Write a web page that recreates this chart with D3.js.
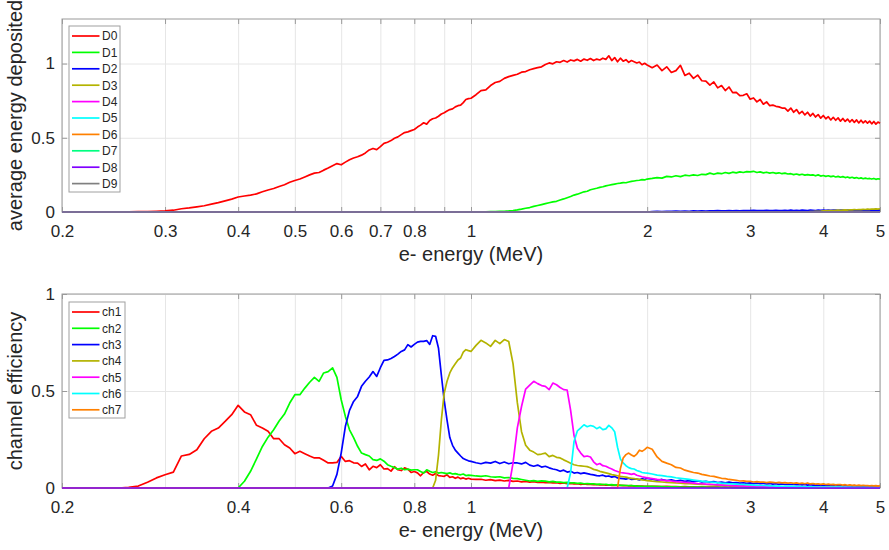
<!DOCTYPE html>
<html>
<head>
<meta charset="utf-8">
<script src="https://cdn.jsdelivr.net/npm/d3@7"></script>
<style>
  body { margin: 0; background: #fff; }
  text { font-family: "Liberation Sans", Arial, Helvetica, sans-serif; fill: #262626; }
</style>
</head>
<body>
<div id="chart"></div>
<script>
// energy grid of the simulation (MeV)
var energyFine = [
  0.20,0.21,0.22,0.23,0.24,0.25,0.26,0.27,0.28,0.29,
  0.30,0.31,0.32,0.33,0.34,0.35,0.36,0.37,0.38,0.39,
  0.40,0.41,0.42,0.43,0.44,0.45,0.46,0.47,0.48,0.49,
  0.50,0.51,0.52,0.53,0.54,0.55,0.56,0.57,0.58,0.59,
  0.60,0.61,0.62,0.63,0.64,0.65,0.66,0.67,0.68,0.69,
  0.70,0.71,0.72,0.73,0.74,0.75,0.76,0.77,0.78,0.79,
  0.80,0.81,0.82,0.83,0.84,0.85,0.86,0.87,0.88,0.89,
  0.90,0.91,0.92,0.93,0.94,0.95,0.96,0.97,0.98,0.99,
  1.00];
var energyMid = [
  1.02,1.04,1.06,1.08,1.10,1.12,1.14,1.16,1.18,1.20,
  1.22,1.24,1.26,1.28,1.30,1.32,1.34,1.36,1.38,1.40,
  1.42,1.44,1.46,1.48,1.50,1.52,1.54,1.56,1.58,1.60,
  1.62,1.64,1.66,1.68,1.70,1.72,1.74,1.76,1.78,1.80,
  1.82,1.84,1.86,1.88,1.90,1.92,1.94,1.96,1.98,2.00];
var energyCoarse = [
  2.04,2.08,2.12,2.16,2.20,2.24,2.28,2.32,2.36,2.40,
  2.44,2.48,2.52,2.56,2.60,2.64,2.68,2.72,2.76,2.80,
  2.84,2.88,2.92,2.96,3.00,3.04,3.08,3.12,3.16,3.20,
  3.24,3.28,3.32,3.36,3.40,3.44,3.48,3.52,3.56,3.60,
  3.64,3.68,3.72,3.76,3.80,3.84,3.88,3.92,3.96,4.00,
  4.04,4.08,4.12,4.16,4.20,4.24,4.28,4.32,4.36,4.40,
  4.44,4.48,4.52,4.56,4.60,4.64,4.68,4.72,4.76,4.80,
  4.84,4.88,4.92,4.96,5.00];
var energy = energyFine.concat(energyMid, energyCoarse);

// ---- top panel: average energy deposited per detector ----
var detNames = ["D0","D1","D2","D3","D4","D5","D6","D7","D8","D9"];
var detColors = ["#ff0000","#00ff00","#0000ff","#b3b300","#ff00ff","#00ffff","#ff8000","#00ff80","#8000ff","#808080"];

var d0Start = 0.25;
var d0Values = [
  0.000,0.001,0.002,0.003,0.005,0.007,0.012,0.022,0.028,0.035,
  0.042,0.053,0.063,0.075,0.087,0.101,0.108,0.114,0.122,0.136,
  0.148,0.158,0.172,0.184,0.200,0.212,0.222,0.236,0.250,0.262,
  0.266,0.282,0.296,0.312,0.326,0.318,0.336,0.352,0.364,0.372,
  0.383,0.398,0.418,0.428,0.420,0.440,0.462,0.470,0.481,0.497,
  0.506,0.521,0.535,0.540,0.548,0.556,0.572,0.585,0.601,0.592,
  0.616,0.628,0.633,0.645,0.660,0.668,0.680,0.690,0.695,0.708,
  0.716,0.720,0.737,0.758,0.764,0.766,
  0.790,0.818,0.822,0.852,0.872,0.880,0.900,0.912,0.920,0.928,
  0.942,0.946,0.958,0.966,0.972,0.978,0.994,1.004,0.998,1.012,
  1.008,1.020,1.010,1.024,1.018,1.028,1.016,1.030,1.022,1.034,
  1.020,1.030,1.024,1.036,1.028,1.052,1.020,1.040,1.012,1.036,
  1.016,1.026,1.008,1.020,1.012,1.004,1.010,0.992,1.002,0.990,
  0.972,0.990,0.952,0.978,0.940,0.952,0.988,0.920,0.935,0.900,
  0.922,0.884,0.882,0.855,0.876,0.836,0.852,0.818,0.842,0.804,
  0.806,0.784,0.786,0.796,0.760,0.768,0.742,0.758,0.726,0.742,
  0.716,0.720,0.712,0.708,0.700,0.700,0.680,0.700,0.672,0.690,
  0.662,0.678,0.654,0.672,0.646,0.664,0.640,0.656,0.632,0.650,
  0.628,0.642,0.620,0.638,0.618,0.634,0.612,0.630,0.610,0.626,
  0.606,0.622,0.604,0.620,0.600,0.618,0.600,0.614,0.598,0.612,
  0.594,0.610,0.592,0.606,0.598];

var d1Start = 1.02;
var d1Values = [
  0.000,0.000,0.001,0.002,0.003,0.004,0.005,0.007,0.010,0.014,
  0.019,0.025,0.030,0.038,0.044,0.050,0.056,0.062,0.068,0.072,
  0.081,0.088,0.096,0.104,0.114,0.120,0.128,0.136,0.140,0.150,
  0.155,0.160,0.166,0.170,0.176,0.180,0.184,0.188,0.192,0.194,
  0.198,0.197,0.202,0.206,0.209,0.212,0.214,0.218,0.216,0.222,
  0.226,0.232,0.228,0.240,0.236,0.244,0.238,0.248,0.244,0.250,
  0.246,0.254,0.252,0.262,0.254,0.262,0.258,0.266,0.260,0.268,
  0.264,0.270,0.266,0.272,0.270,0.274,0.266,0.270,0.264,0.268,
  0.262,0.266,0.260,0.264,0.258,0.262,0.256,0.258,0.252,0.256,
  0.250,0.254,0.248,0.252,0.248,0.250,0.244,0.250,0.242,0.246,
  0.240,0.244,0.238,0.242,0.236,0.240,0.234,0.238,0.232,0.236,
  0.230,0.234,0.228,0.232,0.226,0.230,0.224,0.228,0.224,0.226,
  0.222,0.226,0.220,0.224,0.221];

var d2Start = 2.04;
var d2Values = [
  0.003,0.004,0.003,0.005,0.004,0.006,0.005,0.006,0.005,0.007,
  0.006,0.007,0.006,0.008,0.007,0.009,0.007,0.008,0.009,0.008,
  0.010,0.008,0.009,0.010,0.009,0.011,0.009,0.010,0.009,0.011,
  0.010,0.009,0.011,0.010,0.009,0.011,0.010,0.012,0.010,0.011,
  0.010,0.012,0.011,0.010,0.012,0.011,0.010,0.012,0.011,0.013,
  0.011,0.012,0.011,0.013,0.012,0.011,0.013,0.012,0.011,0.013,
  0.012,0.014,0.012,0.013,0.012,0.014,0.013,0.012,0.014,0.013,
  0.012,0.014,0.013,0.014,0.013];

var d3Start = 3.80;
var d3Values = [
  0.002,0.003,0.004,0.005,0.006,0.008,0.007,0.009,0.010,0.009,
  0.011,0.012,0.011,0.013,0.014,0.013,0.015,0.014,0.016,0.015,
  0.017,0.016,0.018,0.017,0.019,0.018,0.020,0.019,0.021,0.019,0.022];

// ---- bottom panel: channel efficiency ----
var chNames = ["ch1","ch2","ch3","ch4","ch5","ch6","ch7"];
var chColors = ["#ff0000","#00ff00","#0000ff","#b3b300","#ff00ff","#00ffff","#ff8000"];
var ch8Color = "#8000ff"; // plotted at zero, no legend entry

var ch1Start = 0.25;
var ch1Values = [
  0.000,0.003,0.010,0.030,0.052,0.068,0.082,0.165,0.173,0.197,
  0.254,0.292,0.309,0.343,0.378,0.426,0.392,0.378,0.323,0.309,
  0.292,0.254,0.254,0.223,0.206,0.177,0.189,0.177,0.165,0.155,
  0.156,0.143,0.129,0.130,0.132,0.163,0.137,0.141,0.130,0.128,
  0.111,0.124,0.094,0.112,0.105,0.120,0.098,0.100,0.087,0.110,
  0.094,0.090,0.104,0.097,0.080,0.085,0.078,0.063,0.080,0.085,
  0.072,0.066,0.075,0.064,0.062,0.060,0.068,0.055,0.058,0.050,
  0.056,0.048,0.052,0.046,0.050,0.046,
  0.044,0.045,0.040,0.043,0.038,0.041,0.036,0.039,0.034,0.036,
  0.032,0.034,0.030,0.033,0.029,0.030,0.027,0.029,0.026,0.027,
  0.024,0.026,0.022,0.024,0.021,0.022,0.019,0.021,0.018,0.019,
  0.017,0.018,0.016,0.017,0.015,0.016,0.014,0.015,0.013,0.014,
  0.012,0.013,0.011,0.012,0.010,0.011,0.010,0.010,0.009,0.009,
  0.008,0.008,0.007,0.008,0.007,0.007,0.006,0.007,0.006,0.006,
  0.005,0.006,0.005,0.005,0.005,0.005,0.004,0.005,0.004,0.004,
  0.004,0.004,0.004,0.003,0.004,0.003,0.003,0.003,0.003,0.003,
  0.003,0.003,0.002,0.003,0.002,0.003,0.002,0.002,0.002,0.002,
  0.002,0.002,0.002,0.002,0.002,0.002,0.002,0.001,0.002,0.001,
  0.002,0.001,0.001,0.001,0.001,0.001,0.001,0.001,0.001,0.001,
  0.001,0.001,0.001,0.001,0.001,0.001,0.001,0.001,0.001,0.001,
  0.001,0.001,0.001,0.001,0.001];

var ch2Start = 0.40;
var ch2Values = [
  0.000,0.035,0.086,0.150,0.214,0.262,0.300,0.345,0.381,0.438,
  0.481,0.481,0.515,0.545,0.570,0.550,0.593,0.600,0.619,0.570,
  0.455,0.369,0.300,0.260,0.215,0.180,0.172,0.165,0.146,0.142,
  0.150,0.138,0.120,0.112,0.105,0.097,0.102,0.094,0.097,0.092,
  0.094,0.094,0.085,0.077,0.094,0.086,0.080,0.084,0.077,0.080,
  0.077,0.074,0.078,0.072,0.074,0.070,0.068,0.072,0.064,0.066,
  0.065,
  0.062,0.060,0.063,0.058,0.056,0.058,0.052,0.054,0.050,0.048,
  0.044,0.040,0.036,0.038,0.034,0.037,0.035,0.032,0.034,0.030,
  0.031,0.028,0.029,0.026,0.027,0.024,0.025,0.022,0.023,0.021,
  0.022,0.019,0.020,0.018,0.019,0.016,0.017,0.015,0.016,0.014,
  0.014,0.013,0.012,0.012,0.011,0.010,0.010,0.009,0.009,0.008,
  0.008,0.007,0.007,0.006,0.006,0.006,0.005,0.005,0.005,0.004,
  0.004,0.004,0.004,0.003,0.003,0.003,0.003,0.003,0.003,0.002,
  0.002,0.002,0.002,0.002,0.002,0.002,0.002,0.002,0.002,0.002,
  0.002,0.002,0.001,0.002,0.001,0.001,0.001,0.001,0.001,0.001,
  0.001,0.001,0.001,0.001,0.001,0.001,0.001,0.001,0.001,0.001,
  0.001,0.001,0.001,0.001,0.001,0.001,0.001,0.001,0.001,0.001,
  0.001,0.001,0.001,0.001,0.001,0.001,0.001,0.001,0.001,0.001,
  0.001,0.001,0.001,0.001,0.001];

var ch3Start = 0.57;
var ch3Values = [
  0.000,0.010,0.070,0.180,0.318,0.400,0.446,0.472,0.524,0.550,
  0.572,0.600,0.575,0.620,0.658,0.660,0.668,0.678,0.690,0.704,
  0.712,0.739,0.727,0.740,0.752,0.756,0.756,0.760,0.740,0.785,
  0.782,0.720,0.580,0.450,0.350,0.260,0.220,0.195,0.180,0.165,
  0.152,0.146,0.140,0.137,
  0.130,0.125,0.132,0.128,0.137,0.126,0.134,0.125,0.130,0.129,
  0.124,0.132,0.118,0.112,0.118,0.108,0.112,0.104,0.098,0.094,
  0.086,0.092,0.082,0.086,0.077,0.080,0.074,0.078,0.074,0.070,
  0.068,0.064,0.063,0.066,0.060,0.062,0.056,0.060,0.052,0.050,
  0.048,0.046,0.050,0.044,0.046,0.046,0.042,0.048,0.044,0.050,
  0.046,0.040,0.044,0.038,0.042,0.036,0.040,0.034,0.038,0.033,
  0.036,0.032,0.034,0.030,0.033,0.028,0.031,0.027,0.030,0.026,
  0.028,0.025,0.027,0.024,0.026,0.023,0.025,0.022,0.024,0.021,
  0.023,0.020,0.022,0.019,0.021,0.018,0.020,0.018,0.019,0.017,
  0.018,0.016,0.018,0.015,0.017,0.015,0.016,0.014,0.016,0.013,
  0.015,0.013,0.014,0.012,0.014,0.012,0.013,0.011,0.013,0.011,
  0.012,0.010,0.012,0.010,0.011,0.010,0.011,0.009,0.010,0.009,
  0.010,0.009,0.010,0.008,0.009];

var ch4Start = 0.86;
var ch4Values = [
  0.000,0.040,0.170,0.352,0.490,0.550,0.593,0.620,0.640,0.660,
  0.670,0.700,0.713,0.708,0.704,
  0.735,0.761,0.748,0.730,0.761,0.744,0.765,0.755,0.640,0.440,
  0.290,0.220,0.195,0.185,0.172,0.175,0.180,0.162,0.168,0.158,
  0.155,0.145,0.137,0.128,0.120,0.116,0.114,0.112,0.110,0.104,
  0.096,0.092,0.086,0.082,0.078,0.074,0.069,0.066,0.063,0.060,
  0.058,0.056,0.052,0.050,0.048,0.046,0.044,0.042,0.040,0.038,
  0.035,0.033,0.031,0.029,0.028,0.026,0.025,0.023,0.022,0.021,
  0.020,0.019,0.018,0.017,0.016,0.015,0.014,0.014,0.013,0.012,
  0.012,0.011,0.011,0.010,0.010,0.009,0.009,0.008,0.008,0.008,
  0.007,0.007,0.007,0.006,0.006,0.006,0.006,0.005,0.005,0.005,
  0.005,0.005,0.004,0.004,0.004,0.004,0.004,0.004,0.003,0.003,
  0.003,0.003,0.003,0.003,0.003,0.003,0.003,0.002,0.002,0.002,
  0.002,0.002,0.002,0.002,0.002,0.002,0.002,0.002,0.002,0.002,
  0.002,0.002,0.002,0.002,0.002];

var ch5Start = 1.16;
var ch5Values = [
  0.000,0.130,0.310,0.420,0.510,0.530,0.550,0.538,0.528,0.524,
  0.507,0.541,0.532,0.518,0.507,0.505,0.400,0.270,0.205,0.180,
  0.162,0.165,0.160,0.135,0.120,0.126,0.115,0.112,0.104,0.098,
  0.090,0.085,0.080,0.078,0.076,0.074,0.070,0.074,0.066,0.062,
  0.058,0.055,0.052,
  0.048,0.044,0.041,0.038,0.036,0.033,0.031,0.029,0.027,0.025,
  0.023,0.022,0.020,0.019,0.018,0.016,0.015,0.014,0.013,0.012,
  0.011,0.011,0.010,0.009,0.009,0.008,0.008,0.007,0.007,0.006,
  0.006,0.006,0.005,0.005,0.005,0.005,0.004,0.004,0.004,0.004,
  0.004,0.003,0.003,0.003,0.003,0.003,0.003,0.003,0.003,0.002,
  0.002,0.002,0.002,0.002,0.002,0.002,0.002,0.002,0.002,0.002,
  0.002,0.002,0.002,0.002,0.002,0.002,0.002,0.002,0.002,0.002,
  0.002,0.002,0.002,0.002,0.002];

var ch6Start = 1.46;
var ch6Values = [
  0.000,0.080,0.240,0.295,0.310,0.326,0.316,0.322,0.318,0.306,
  0.314,0.301,0.305,0.323,0.310,0.290,0.210,0.150,0.129,0.115,
  0.105,0.100,0.098,0.090,0.086,0.080,0.078,0.077,
  0.072,0.066,0.064,0.060,0.057,0.053,0.050,0.047,0.044,0.041,
  0.038,0.035,0.033,0.031,0.029,0.027,0.025,0.024,0.022,0.021,
  0.020,0.019,0.018,0.017,0.016,0.015,0.014,0.013,0.013,0.012,
  0.011,0.011,0.010,0.010,0.009,0.009,0.008,0.008,0.008,0.007,
  0.007,0.007,0.006,0.006,0.006,0.006,0.005,0.005,0.005,0.005,
  0.005,0.004,0.004,0.004,0.004,0.004,0.004,0.004,0.003,0.003,
  0.003,0.003,0.003,0.003,0.003,0.003,0.003,0.003,0.003,0.003,
  0.003,0.003,0.003,0.003,0.003];

var ch7Start = 1.78;
var ch7Values = [
  0.000,0.100,0.155,0.172,0.180,0.170,0.163,0.175,0.195,0.189,
  0.198,0.210,
  0.200,0.160,0.137,0.128,0.120,0.106,0.103,0.092,0.086,0.080,
  0.077,0.070,0.066,0.062,0.060,0.055,0.050,0.048,0.044,0.042,
  0.040,0.036,0.037,0.034,0.034,0.031,0.033,0.030,0.031,0.028,
  0.030,0.029,0.027,0.029,0.026,0.028,0.025,0.027,0.024,0.026,
  0.023,0.025,0.022,0.026,0.021,0.023,0.020,0.022,0.019,0.021,
  0.018,0.020,0.017,0.019,0.016,0.018,0.017,0.015,0.017,0.014,
  0.016,0.014,0.015,0.013,0.015,0.012,0.014,0.012,0.013,0.011,
  0.013,0.011,0.012,0.010,0.012];

// axis ticks
var topTickLabels = [0.2,0.3,0.4,0.5,0.6,0.7,0.8,1,2,3,4,5];
var bottomTickLabels = [0.2,0.4,0.6,0.8,1,2,3,4,5];
var xGridValues = [0.2,0.3,0.4,0.5,0.6,0.7,0.8,0.9,1,2,3,4,5];

// Convierte un arreglo de valores (desde la energia de inicio) en puntos {e, v}
function buildSeries(start, vals) {
    var k = energy.findIndex(function (e) { return Math.abs(e - start) < 1e-9; });
    var out = [];
    energy.forEach(function (e, i) {
        var v = i < k ? 0 : vals[i - k];
        if (v !== undefined) out.push({ e: e, v: v });
    });
    return out;
}
function zeroSeries() {
    return energy.map(function (e) { return { e: e, v: 0 }; });
}

var width = 889, height = 550;
var svg = d3.select("#chart").append("svg")
    .attr("width", width)
    .attr("height", height);
svg.append("rect").attr("width", width).attr("height", height).attr("fill", "#fff");

var x = d3.scaleLog().domain([0.2, 5]).range([62, 880]);
var axisColor = "#9a9a9a";

function drawPanel(cfg) {
    var y = d3.scaleLinear().domain(cfg.yDomain).range([cfg.bottom, cfg.top]);
    var g = svg.append("g");
    var h = cfg.bottom - cfg.top;

    // grid
    g.append("g")
        .attr("transform", "translate(0," + cfg.bottom + ")")
        .call(d3.axisBottom(x).tickValues(xGridValues).tickSize(-h).tickFormat(""))
        .call(function (s) { s.select(".domain").remove(); s.selectAll("line").attr("stroke", "#e6e6e6"); });
    g.append("g")
        .attr("transform", "translate(62,0)")
        .call(d3.axisLeft(y).tickValues(cfg.yTicks).tickSize(-818).tickFormat(""))
        .call(function (s) { s.select(".domain").remove(); s.selectAll("line").attr("stroke", "#e6e6e6"); });

    // box
    g.append("rect")
        .attr("x", 62).attr("y", cfg.top)
        .attr("width", 818).attr("height", h)
        .attr("fill", "none").attr("stroke", axisColor);

    // bottom and left axes (ticks inside)
    var xb = g.append("g")
        .attr("transform", "translate(0," + cfg.bottom + ")")
        .call(d3.axisBottom(x).tickValues(cfg.xTicks).tickSizeInner(-5).tickSizeOuter(0).tickPadding(13)
            .tickFormat(function (d) { return cfg.xLabels.indexOf(d) >= 0 ? String(d) : ""; }));
    var yl = g.append("g")
        .attr("transform", "translate(62,0)")
        .call(d3.axisLeft(y).tickValues(cfg.yTicks).tickSizeInner(-5).tickSizeOuter(0).tickPadding(7)
            .tickFormat(function (d) { return String(d); }));
    // mirrored ticks on top and right
    var xt = g.append("g")
        .attr("transform", "translate(0," + cfg.top + ")")
        .call(d3.axisTop(x).tickValues(cfg.xTicks).tickSizeInner(-5).tickSizeOuter(0).tickFormat(""));
    var yr = g.append("g")
        .attr("transform", "translate(880,0)")
        .call(d3.axisRight(y).tickValues(cfg.yTicks).tickSizeInner(-5).tickSizeOuter(0).tickFormat(""));
    [xb, yl, xt, yr].forEach(function (a) {
        a.select(".domain").remove();
        a.selectAll("line").attr("stroke", axisColor);
        a.selectAll("text")
            .style("font-size", "17px")
            .style("font-family", "'Liberation Sans', Arial, sans-serif")
            .attr("fill", "#262626");
    });

    // datos
    var line = d3.line()
        .x(function (d) { return x(d.e); })
        .y(function (d) { return y(d.v); });
    cfg.series.forEach(function (s) {
        g.append("path")
            .datum(s.data)
            .attr("fill", "none")
            .attr("stroke", s.color)
            .attr("stroke-width", 1.7)
            .attr("stroke-linejoin", "round")
            .attr("d", line);
    });

    // axis labels
    g.append("text")
        .attr("x", 471).attr("y", cfg.bottom + 49)
        .attr("text-anchor", "middle")
        .style("font-size", "20px")
        .text("e- energy (MeV)");
    g.append("text")
        .attr("transform", "translate(22," + ((cfg.top + cfg.bottom) / 2) + ") rotate(-90)")
        .attr("text-anchor", "middle")
        .style("font-size", "20px")
        .text(cfg.yLabel);

    // legend
    var lg = g.append("g");
    lg.append("rect")
        .attr("x", 69).attr("y", cfg.legend.top)
        .attr("width", cfg.legend.width).attr("height", cfg.legend.height)
        .attr("fill", "#fff").attr("stroke", "#a0a0a0");
    cfg.legend.names.forEach(function (n, i) {
        var yy = cfg.legend.first + cfg.legend.step * i;
        lg.append("line")
            .attr("x1", 72).attr("x2", 99.5)
            .attr("y1", yy).attr("y2", yy)
            .attr("stroke", cfg.legend.colors[i])
            .attr("stroke-width", 1.7);
        lg.append("text")
            .attr("x", 102).attr("y", yy + 4.3)
            .style("font-size", "12px")
            .attr("fill", "#000")
            .text(n);
    });
}

// top panel series
var topSeries = [
    { color: detColors[0], data: buildSeries(d0Start, d0Values) },
    { color: detColors[1], data: buildSeries(d1Start, d1Values) },
    { color: detColors[2], data: buildSeries(d2Start, d2Values) },
    { color: detColors[3], data: buildSeries(d3Start, d3Values) }
];
for (var i = 4; i < detNames.length; i++) {
    topSeries.push({ color: detColors[i], data: zeroSeries() });
}

drawPanel({
    top: 19, bottom: 212,
    yDomain: [0, 1.3], yTicks: [0, 0.5, 1],
    xTicks: xGridValues, xLabels: topTickLabels,
    yLabel: "average energy deposited",
    series: topSeries,
    legend: { top: 26, width: 51, height: 166, first: 36, step: 16.4, names: detNames, colors: detColors }
});

// bottom panel series
var chStarts = [ch1Start, ch2Start, ch3Start, ch4Start, ch5Start, ch6Start, ch7Start];
var chValues = [ch1Values, ch2Values, ch3Values, ch4Values, ch5Values, ch6Values, ch7Values];
var bottomSeries = chNames.map(function (n, i) {
    return { color: chColors[i], data: buildSeries(chStarts[i], chValues[i]) };
});
bottomSeries.push({ color: ch8Color, data: zeroSeries() });

drawPanel({
    top: 294, bottom: 488,
    yDomain: [0, 1], yTicks: [0, 0.5, 1],
    xTicks: bottomTickLabels, xLabels: bottomTickLabels,
    yLabel: "channel efficiency",
    series: bottomSeries,
    legend: { top: 302, width: 56, height: 116, first: 312, step: 16.3, names: chNames, colors: chColors }
});
</script>
</body>
</html>
